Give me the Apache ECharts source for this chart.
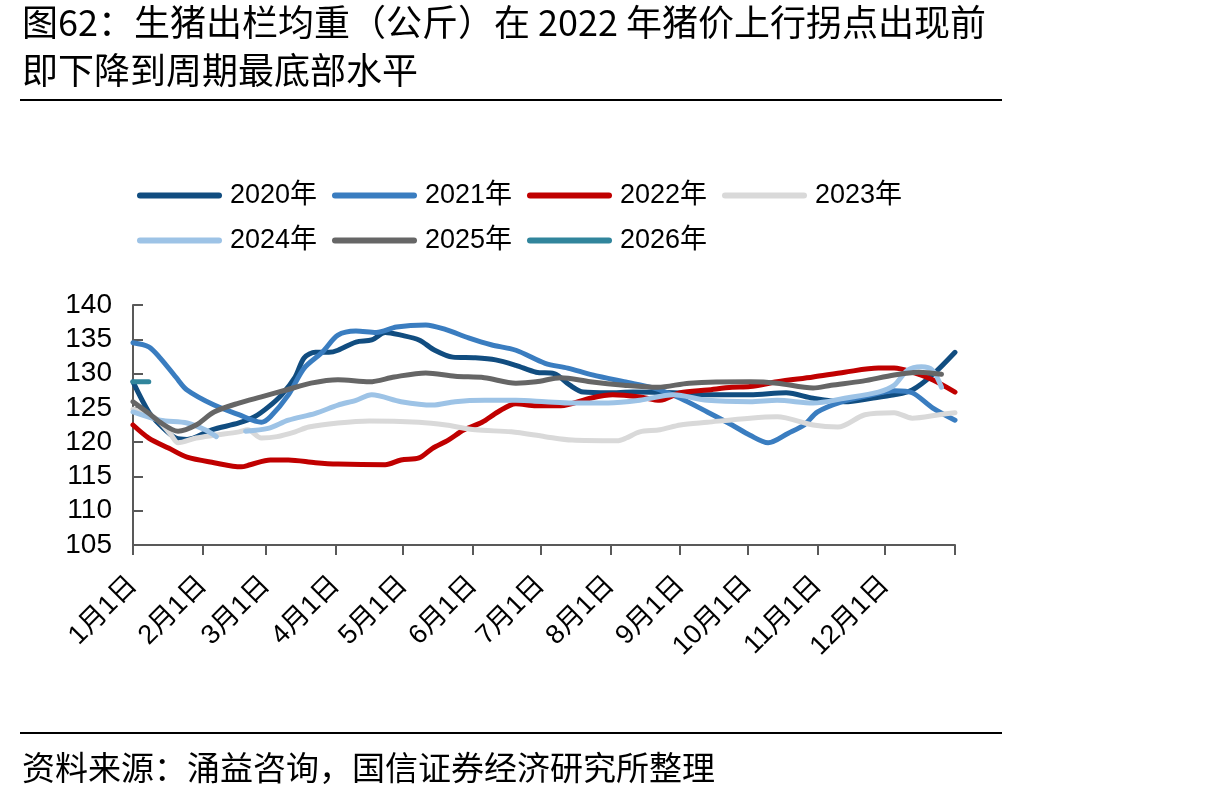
<!DOCTYPE html>
<html>
<head>
<meta charset="utf-8">
<script src="https://cdn.jsdelivr.net/npm/echarts@6/dist/echarts.min.js"></script>
<style>
  html, body { margin: 0; padding: 0; background: #fff; }
  #chart { width: 1215px; height: 801px; }
</style>
</head>
<body>
<div id="chart"></div>
<script>
// 每月天数，用来生成日期类目
var monthDays = [31, 28, 31, 30, 31, 30, 31, 31, 30, 31, 30, 31];
var yTicks = [105, 110, 115, 120, 125, 130, 135, 140];

// [第几天, 出栏均重(公斤)]
var s2020 = [[0,128.8],[7,124.4],[12,122.5],[19,120.6],[24,120.4],[35,121.8],[47,122.8],[54,123.7],[60,125.1],[66,126.9],[72,129.5],[76,132.3],[81,133.1],[87,133.1],[91,133.4],[99,134.6],[106,134.9],[112,136],[119,135.6],[127,134.9],[134,133.4],[142,132.4],[152,132.3],[161,132],[170,131.2],[179,130.2],[187,130],[194,128.3],[200,127.3],[211,127.2],[222,127.3],[240,127.2],[255,126.9],[274,126.9],[290,127.2],[302,126.4],[316,125.9],[328,126.4],[338,126.9],[346,127.6],[355,129.8],[365,133.1]];
var s2021 = [[0,134.5],[7,133.9],[12,132.3],[19,129.5],[24,127.6],[36,125.4],[47,124],[57,122.9],[61,123.7],[69,126.9],[76,130.8],[84,133.1],[91,135.6],[99,136.2],[108,136],[117,136.8],[130,137.1],[139,136.4],[149,135.2],[159,134.2],[170,133.4],[183,131.5],[193,130.8],[204,129.8],[218,128.8],[231,127.9],[243,126.4],[255,124.4],[266,122.5],[274,121],[282,119.9],[291,121.3],[298,122.5],[304,124.4],[315,125.9],[328,126.9],[338,127.5],[346,127.2],[355,125],[365,123.2]];
var s2022 = [[0,122.5],[7,120.6],[16,119.1],[24,117.8],[36,117],[48,116.4],[52,116.7],[61,117.4],[69,117.4],[81,117],[91,116.8],[112,116.7],[119,117.4],[127,117.7],[133,119.1],[140,120.3],[147,121.8],[155,122.9],[162,124.4],[170,125.6],[179,125.3],[190,125.3],[203,126.4],[213,126.9],[225,126.6],[234,126.1],[243,127.2],[255,127.6],[266,128],[274,128.1],[286,128.8],[302,129.5],[316,130.2],[331,130.8],[338,130.8],[346,130.2],[355,129.1],[365,127.3]];
var s2023 = [[0,124.8],[10,123.5],[17,121],[20,119.9],[28,120.6],[36,121],[47,121.5],[51,121.8],[57,120.6],[64,120.8],[72,121.5],[78,122.2],[91,122.8],[105,123.1],[127,122.9],[139,122.5],[152,121.8],[168,121.5],[183,120.8],[195,120.3],[215,120.2],[219,120.6],[225,121.5],[234,121.8],[243,122.5],[255,122.9],[274,123.5],[286,123.7],[302,122.5],[313,122.2],[325,124],[338,124.3],[346,123.5],[358,124],[365,124.3]];
var s2024 = [[0,124.4],[12,123.2],[24,122.8],[32,121.8],[37,120.8],[43,'-'],[50,121.6],[60,122],[69,123.2],[81,124.2],[91,125.4],[99,126.1],[106,126.9],[119,125.9],[133,125.4],[143,125.9],[156,126.1],[170,126.1],[183,125.9],[195,125.7],[211,125.7],[225,126.1],[240,126.9],[255,126.1],[274,125.9],[286,126.1],[302,125.7],[316,126.4],[331,127.3],[338,128.3],[344,130.5],[350,131],[355,130.5],[359,128]];
var s2025 = [[0,125.9],[7,124.2],[12,122.9],[20,121.6],[28,122.5],[36,124.4],[47,125.7],[57,126.6],[68,127.6],[79,128.6],[91,129.1],[105,128.8],[116,129.5],[130,130.1],[143,129.6],[156,129.4],[170,128.6],[179,128.8],[190,129.4],[203,128.8],[218,128.3],[233,128],[247,128.6],[274,128.8],[286,128.6],[302,127.9],[310,128.3],[324,128.9],[338,129.8],[349,130.2],[359,129.9]];
var s2026 = [[0,128.8],[7,128.8]];

var seriesNames = ["2020年", "2021年", "2022年", "2023年", "2024年", "2025年", "2026年"];
var seriesData = [s2020, s2021, s2022, s2023, s2024, s2025, s2026];
var colors = ["#114d80", "#3a7dc0", "#c00000", "#d9d9d9", "#9dc3e6", "#666666", "#31859c"];

// 类目：1月1日 ... 12月31日，再加一个年末位置
var categories = [];
var monthStarts = [];
var dayIdx = 0;
monthDays.forEach(function (n, m) {
  monthStarts.push(dayIdx);
  for (var d = 1; d <= n; d++) {
    categories.push((m + 1) + "月" + d + "日");
    dayIdx++;
  }
});
categories.push("");
var endIdx = dayIdx;

var myChart = echarts.init(document.getElementById("chart"));
var option = {
  backgroundColor: "#fff",
  animation: false,
  color: colors,
  textStyle: { fontFamily: "Liberation Sans, Noto Sans CJK SC" },
  graphic: [
    {
      type: "text", left: 22, top: 4,
      style: { text: "图62：生猪出栏均重（公斤）在 2022 年猪价上行拐点出现前", fontSize: 36, fontFamily: "Noto Sans CJK SC", fill: "#000" }
    },
    {
      type: "text", left: 22, top: 52,
      style: { text: "即下降到周期最底部水平", fontSize: 36, fontFamily: "Noto Sans CJK SC", fill: "#000" }
    },
    {
      type: "line", shape: { x1: 20, y1: 100, x2: 1002, y2: 100 },
      style: { stroke: "#000", lineWidth: 2 }
    },
    {
      type: "line", shape: { x1: 20, y1: 733, x2: 1002, y2: 733 },
      style: { stroke: "#000", lineWidth: 2 }
    },
    {
      type: "text", left: 22, top: 751,
      style: { text: "资料来源：涌益咨询，国信证券经济研究所整理", fontSize: 33, fontFamily: "Noto Sans CJK SC", fill: "#000" }
    }
  ],
  legend: {
    left: 132,
    top: 173,
    width: 780,
    itemWidth: 85,
    itemHeight: 7,
    itemGap: 10,
    icon: "path://M3,0L82,0A3,3,0,0,1,82,6L3,6A3,3,0,0,1,3,0Z",
    textStyle: {
      fontSize: 27,
      color: "#000",
      width: 92,
      lineHeight: 35,
      padding: [0, 0, 0, 3],
      fontFamily: "Liberation Sans, Noto Sans CJK SC"
    },
    data: seriesNames
  },
  grid: {
    left: 133,
    right: 260,
    top: 305,
    bottom: 256,
    containLabel: false
  },
  xAxis: {
    type: "category",
    boundaryGap: false,
    data: categories,
    axisLine: { lineStyle: { color: "#595959", width: 2 } },
    axisTick: {
      length: 10,
      lineStyle: { color: "#595959", width: 2 },
      interval: function (i) { return monthStarts.indexOf(i) >= 0 || i === endIdx; }
    },
    axisLabel: {
      rotate: 45,
      margin: 36,
      fontSize: 27,
      color: "#000",
      interval: function (i) { return monthStarts.indexOf(i) >= 0; }
    },
    splitLine: { show: false }
  },
  yAxis: {
    type: "value",
    min: yTicks[0],
    max: yTicks[yTicks.length - 1],
    interval: 5,
    axisLine: { show: true, lineStyle: { color: "#595959", width: 2 } },
    axisTick: { show: true, inside: true, length: 10, lineStyle: { color: "#595959", width: 2 } },
    axisLabel: { fontSize: 28, color: "#000", margin: 21 },
    splitLine: { show: false }
  },
  series: seriesNames.map(function (name, i) {
    return {
      name: name,
      type: "line",
      data: seriesData[i],
      smooth: 0.3,
      symbol: "none",
      connectNulls: false,
      lineStyle: { width: 5, color: colors[i], cap: "round", join: "round" }
    };
  })
};
myChart.setOption(option);
</script>
</body>
</html>
